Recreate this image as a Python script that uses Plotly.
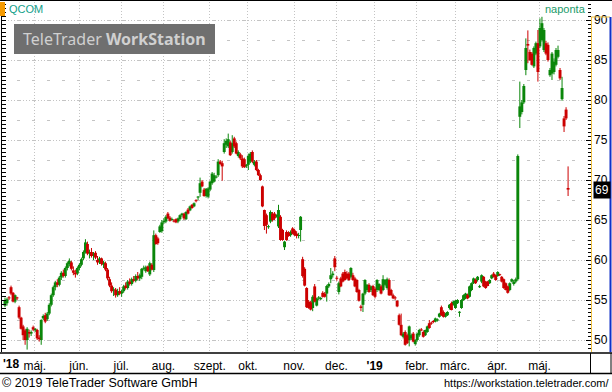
import plotly.graph_objects as go

# ---- data: daily OHLC (open, high, low, close), QCOM, 11 Apr 2018 .. 22 May 2019 ----
apr18 = [(54.3,55.3,54.1,55.0),(54.6,55.3,54.3,55.1),(55.3,55.5,55.0,55.2),(56.6,56.8,55.6,55.8),
         (55.9,56.0,54.7,54.8),(54.8,55.7,54.6,55.6),(55.3,55.4,55.0,55.2),(54.1,54.3,52.6,52.8),
         (52.8,52.9,51.3,51.4),(51.7,51.9,50.0,50.6),(51.2,51.4,49.4,50.0),(50.0,51.6,48.8,51.4),
         (51.0,51.3,50.3,50.8),(50.8,51.2,50.5,51.0)]
may18 = [(51.6,51.8,51.1,51.3),(51.2,51.5,51.0,51.4),(51.25,51.4,50.0,50.2),(50.3,50.6,49.8,50.1),
         (50.0,52.6,49.4,52.5),(52.7,53.2,52.5,53.0),(53.1,53.4,52.1,52.3),(52.6,53.5,52.4,53.3),
         (53.3,54.6,53.1,54.4),(54.4,55.8,54.2,55.6),(55.6,56.8,55.4,56.6),(56.6,57.4,56.2,57.2),
         (57.2,57.6,56.6,56.9),(56.9,58.0,56.7,57.8),(57.8,58.6,57.5,58.4),(58.4,58.8,57.8,58.0),
         (58.0,59.2,57.8,59.0),(59.0,59.8,58.7,59.6),(59.5,60.2,59.2,59.9),(59.7,59.9,58.7,58.9),
         (58.7,59.2,58.1,58.4),(58.4,58.8,57.8,58.2)]
jun18 = [(58.3,59.2,58.1,59.0),(59.0,59.6,58.7,59.4),(59.4,60.3,59.2,60.1),(60.2,61.2,60.0,61.0),
         (61.0,62.6,60.8,62.2),(62.0,62.3,60.6,60.8),(60.8,61.3,60.2,61.0),(61.0,61.5,60.3,60.5),
         (60.5,61.0,60.0,60.8),(60.9,61.1,60.1,60.3),(60.0,60.5,59.4,59.7),(59.7,60.4,59.5,60.2),
         (60.2,60.3,59.3,59.5),(59.4,59.9,59.0,59.7),(59.6,59.8,58.6,58.8),(58.8,59.0,57.5,57.7),
         (57.6,57.9,56.6,56.8),(56.8,57.2,55.9,56.1),(56.2,56.6,55.5,56.3),(56.3,56.5,55.3,55.6),
         (55.6,56.4,55.4,56.1)]
jul18 = [(56.1,56.6,55.6,55.8),(55.8,56.3,55.4,56.1),(56.1,56.9,55.9,56.7),(56.8,57.2,56.3,56.5),
         (56.5,57.5,56.3,57.3),(57.3,57.7,56.8,57.0),(57.0,57.8,56.8,57.6),(57.6,58.0,57.2,57.4),
         (57.4,58.2,57.2,58.0),(58.0,58.5,57.5,57.7),(57.7,58.3,57.4,58.1),(57.9,59.0,57.6,58.9),
         (58.9,59.3,58.7,59.0),(58.6,59.3,58.4,59.1),(59.2,59.3,58.5,58.6),(58.2,59.8,58.0,59.6),
         (59.4,59.6,58.7,58.8),(58.75,63.7,58.5,63.1),(63.1,63.3,61.9,62.0),(62.7,62.9,61.9,62.1),
         (63.5,64.4,63.4,64.2)]
aug18 = [(63.6,65.0,63.4,64.7),(64.7,65.2,64.5,64.9),(64.8,65.6,64.6,65.4),(65.8,66.0,65.1,65.2),
         (65.3,65.5,64.8,64.9),(65.0,65.3,64.9,65.1),(64.9,65.1,64.7,64.8),(65.1,65.2,64.6,64.7),
         (64.8,65.3,64.6,65.2),(65.1,65.7,64.9,65.6),(65.6,65.9,65.4,65.8),(65.8,65.9,65.0,65.2),
         (65.1,66.1,65.0,66.0),(66.3,66.5,65.7,65.8),(66.2,66.8,66.1,66.7),(66.9,67.0,66.4,66.5),
         (66.7,67.2,66.6,67.1),(67.4,67.6,67.2,67.35),(67.8,68.0,67.5,67.9),(68.4,70.3,67.9,69.6),
         (69.8,70.0,69.1,69.2),(68.8,69.0,67.9,68.0),(68.0,69.0,67.8,68.9)]
sep18 = [(67.9,69.1,67.7,68.95),(68.8,69.9,68.6,69.8),(69.6,71.0,69.4,70.8),(69.8,70.9,69.7,70.6),
         (70.3,70.6,70.2,70.4),(70.6,72.6,70.4,72.3),(72.3,72.5,71.9,72.0),(72.1,72.4,69.9,71.7),
         (73.5,75.1,73.3,74.6),(74.4,75.2,74.0,74.9),(74.2,75.8,74.0,75.1),(74.7,74.9,73.0,73.1),
         (73.5,75.6,73.3,74.6),(75.2,75.4,74.0,74.2),(74.6,74.8,73.2,73.3),(73.0,73.7,72.8,73.5),
         (73.2,73.4,72.5,72.7),(72.7,73.1,71.5,71.7),(72.6,72.8,71.5,71.6)]
oct18 = [(71.7,72.0,71.5,71.9),(71.9,73.3,71.25,73.0),(72.3,73.5,72.1,73.3),(73.5,73.7,72.1,72.3),
         (71.9,72.5,71.7,72.3),(72.3,72.5,71.1,71.25),(71.25,71.4,70.5,70.6),(70.6,70.8,69.9,70.0),
         (69.2,69.3,66.6,66.7),(66.25,66.3,63.75,64.25),(65.6,65.8,63.3,64.4),(64.1,64.4,63.9,64.2),
         (64.8,66.2,64.6,66.0),(65.8,66.0,64.8,65.0),(65.8,66.0,65.0,65.2),(65.5,65.7,65.3,65.55),
         (64.2,66.9,64.0,66.25),(65.4,65.6,62.4,62.5),(63.75,63.9,62.4,62.5),(61.6,62.4,61.25,62.3),
         (63.5,63.7,62.4,62.5),(63.4,63.6,62.9,63.0),(63.1,63.7,62.9,63.5)]
nov18 = [(63.95,64.1,63.2,63.3),(63.7,63.9,63.0,63.1),(63.3,63.6,62.7,63.0),(63.0,63.4,62.7,63.05),
         (63.75,65.5,62.3,65.4),(60.1,60.4,57.8,58.0),(58.9,59.1,56.7,56.8),(56.5,56.6,54.0,54.1),
         (54.8,55.0,53.9,54.0),(54.7,54.9,53.7,53.8),(54.0,55.6,53.6,55.4),(56.7,57.0,54.7,54.8),
         (54.3,55.3,54.2,55.2),(55.2,55.5,55.0,55.3),(55.1,55.4,55.0,55.25),(55.9,56.1,55.3,55.4),
         (55.8,56.0,55.3,55.4),(55.8,56.9,54.8,56.75),(56.7,57.2,56.5,57.0),(57.6,59.0,57.1,58.1),
         (58.1,58.6,57.8,58.3)]
dec18 = [(60.2,60.5,58.6,59.1),(57.7,58.0,57.4,57.65),(56.0,57.3,55.7,57.1),(57.7,57.9,56.6,56.7),
         (58.3,58.5,57.2,57.3),(58.5,58.8,57.4,57.5),(58.3,58.6,57.6,57.7),(58.3,58.5,57.4,57.5),
         (57.9,59.1,57.7,59.0),(58.1,58.4,57.4,57.5),(57.7,57.9,56.6,56.7),(57.5,57.6,55.9,56.0),
         (56.25,56.4,54.8,54.9),(54.2,54.4,53.6,54.0),(54.4,55.9,53.5,55.8),(55.8,57.6,55.6,57.5),
         (56.25,57.0,56.0,56.9),(56.9,57.1,55.9,56.0),(56.25,56.8,56.0,56.7)]
jan19 = [(56.75,56.9,55.5,55.6),(56.4,56.6,55.2,55.4),(56.25,57.6,56.0,57.5),(56.25,57.1,56.1,57.0),
         (56.7,56.9,55.7,55.8),(56.25,58.1,56.1,57.6),(56.9,57.6,56.7,57.5),(56.5,57.8,56.3,57.6),
         (57.5,57.7,55.5,55.6),(56.25,56.4,55.5,55.6),(55.6,55.8,55.1,55.2),(55.3,55.5,55.0,55.2),
         (54.9,55.0,54.1,54.2),(53.1,53.3,51.8,51.9),(51.9,53.3,50.5,50.6),(50.4,51.0,50.2,50.8),
         (51.0,51.2,49.3,49.4),(50.6,50.8,49.5,49.6),(50.0,51.8,49.2,51.7),(50.2,50.8,50.0,50.6),
         (50.8,51.0,49.7,49.8)]
feb19 = [(49.5,50.1,49.3,50.0),(50.0,50.9,49.8,50.8),(50.6,51.4,50.4,51.25),(51.3,51.5,51.1,51.2),
         (51.0,51.2,50.3,50.4),(50.6,51.3,50.5,51.25),(51.0,51.8,50.9,51.7),(52.1,52.5,51.4,51.5),
         (52.1,52.3,51.9,52.05),(52.3,52.5,52.1,52.25),(52.3,52.8,52.2,52.7),(52.45,52.7,52.3,52.55),
         (52.9,53.4,52.8,53.3),(54.1,54.3,53.0,53.1),(53.5,53.7,52.8,52.9),(52.9,53.4,52.8,53.3),
         (53.1,53.6,53.0,53.5),(54.0,54.5,53.8,54.4),(54.6,54.8,53.7,53.75)]
mar19 = [(54.4,54.9,54.3,54.8),(54.0,55.0,53.9,54.9),(54.6,55.1,54.5,55.0),(53.4,53.6,52.9,53.5),
         (54.0,55.1,53.9,55.0),(55.0,55.7,54.9,55.6),(55.2,55.9,55.1,55.8),(55.6,55.8,55.1,55.2),
         (55.4,56.8,55.3,56.7),(56.25,57.2,56.1,57.1),(57.1,57.8,57.0,57.7),(57.5,57.7,57.0,57.1),
         (57.5,58.0,57.3,57.9),(56.6,56.9,56.5,56.7),(57.3,58.2,57.1,58.1),(57.9,58.0,56.6,56.7),
         (57.3,57.4,56.4,56.5),(57.3,57.4,56.7,56.75),(57.1,57.6,57.0,57.5),(57.7,58.2,57.6,58.1),
         (58.3,58.5,57.8,57.9)]
apr19 = [(58.1,58.2,57.4,57.5),(58.0,58.6,57.9,58.5),(58.15,58.3,58.0,58.1),(57.9,58.0,57.2,57.3),
         (57.6,57.7,56.4,56.5),(57.1,57.2,56.2,56.25),(56.7,56.8,55.8,55.9),(56.25,57.2,56.1,57.1),
         (57.3,57.7,57.2,57.6),(57.0,57.5,56.8,57.3),(57.3,57.8,57.1,57.6),(57.6,73.2,57.4,73.0),
         (77.9,82.3,76.5,79.2),(78.5,80.0,78.2,79.7),(79.7,82.0,79.5,81.75),(83.75,87.7,83.1,86.5),
         (87.0,88.7,84.6,86.8),(86.0,86.3,84.9,85.0),(85.8,86.0,84.3,84.4),(84.2,86.7,84.0,86.5),
         (85.8,87.3,85.6,87.1)]
may19 = [(87.1,88.75,82.3,83.5),(86.7,90.2,86.5,89.0),(87.5,90.4,87.3,89.6),(86.25,89.0,86.0,88.75),
         (87.1,87.4,85.6,85.8),(86.9,87.2,84.8,85.0),(83.1,84.0,82.9,83.75),(83.3,86.0,82.5,85.8),
         (83.5,85.2,83.2,84.8),(84.4,86.5,84.2,86.25),(85.4,86.8,85.2,86.25),(83.75,84.0,82.5,82.7),
         (80.1,82.9,79.9,81.5),(77.7,78.0,76.0,76.7),(78.8,79.1,77.5,77.7),(69.0,71.7,68.0,68.8)]

# index of first trading day of each month, and its label
month_start_idx = [14, 36, 57, 78, 101, 120, 143, 164, 183, 204, 223, 244, 265]
month_labels = ["máj.", "jún.", "júl.", "aug.", "szept.", "okt.", "nov.", "dec.",
                "<b>'19</b>", "febr.", "márc.", "ápr.", "máj."]
price_ticks = [50, 55, 60, 65, 70, 75, 80, 85, 90]
last_label = "69"

rows = apr18 + may18 + jun18 + jul18 + aug18 + sep18 + oct18 + nov18 + dec18 + jan19 + feb19 + mar19 + apr19 + may19
opens = [r[0] for r in rows]
highs = [r[1] for r in rows]
lows = [r[2] for r in rows]
closes = [r[3] for r in rows]
idx = list(range(len(rows)))

# ---- geometry helpers (pixel -> paper) ----
W, H = 612, 392
PL, PR, PT, PB = 2, 591, 2, 352
def fx(x):
    return (x - PL) / (PR - PL)
def fy(y):
    return (PB - y) / (PB - PT)

GREEN = "#0b870b"
RED = "#cc0000"
GRID = "#c4c4c4"
FONT = "Liberation Sans, Arial, sans-serif"
BODY_W = 1.45      # body width in trading days
MIN_BODY = 0.13    # minimum drawn body height (doji)

fig = go.Figure()
for up, color in ((True, GREEN), (False, RED)):
    sel = [i for i in idx if (closes[i] >= opens[i]) == up]
    fig.add_trace(go.Bar(
        x=sel,
        base=[min(opens[i], closes[i]) for i in sel],
        y=[max(abs(closes[i] - opens[i]), MIN_BODY) for i in sel],
        width=BODY_W, marker=dict(color=color, line=dict(width=0)),
        showlegend=False, hoverinfo="skip"))
    wx, wy = [], []
    for i in sel:
        wx += [i, i, None]
        wy += [lows[i], highs[i], None]
    fig.add_trace(go.Scatter(x=wx, y=wy, mode="lines", line=dict(color=color, width=1),
                             showlegend=False, hoverinfo="skip"))

px_per_day = 2.011
x_lo = (PL - 5) / px_per_day
x_hi = (PR - 5) / px_per_day
y_lo, y_hi = 48.5, 92.25

fig.update_layout(
    width=W, height=H, margin=dict(l=PL, r=W - PR, t=PT, b=H - PB),
    paper_bgcolor="white", plot_bgcolor="white", barmode="overlay",
    font=dict(family=FONT, size=12, color="black"),
    xaxis=dict(range=[x_lo, x_hi], type="linear",
               tickmode="array", tickvals=[m + 0.8 for m in month_start_idx], ticktext=month_labels,
               showgrid=True, gridcolor=GRID, griddash="1px,2px", gridwidth=1,
               ticks="", showline=False, zeroline=False, ticklabelstandoff=5,
               tickfont=dict(size=12, color="black", family=FONT), fixedrange=True),
    yaxis=dict(range=[y_lo, y_hi], side="right", tickmode="array", tickvals=price_ticks,
               showgrid=True, gridcolor=GRID, griddash="1px,2px", gridwidth=1,
               ticks="inside", ticklen=5, tickcolor="black", showline=False, zeroline=False,
               minor=dict(dtick=2.5, tick0=0, showgrid=True, gridcolor=GRID, griddash="3px,12px", ticks=""),
               tickfont=dict(size=12, color="black", family=FONT), ticklabelstandoff=2, fixedrange=True),
    yaxis2=dict(range=[y_lo, y_hi], overlaying="y", side="right", showgrid=False,
                showticklabels=False, tickmode="linear", tick0=0, dtick=5, ticks="inside", ticklen=5,
                tickcolor="black", minor=dict(dtick=0.5, tick0=0, ticks="inside", ticklen=3, tickcolor="black"),
                zeroline=False, fixedrange=True),
    yaxis3=dict(range=[y_lo, y_hi], overlaying="y", side="left", showgrid=False,
                showticklabels=False, tickmode="linear", tick0=0, dtick=5, ticks="inside", ticklen=4,
                tickcolor="black", minor=dict(dtick=0.5, tick0=0, ticks="inside", ticklen=4, tickcolor="black"),
                showline=True, linecolor="black", linewidth=1, zeroline=False, fixedrange=True),
)
# invisible anchors so the overlay axes are drawn
fig.add_trace(go.Scatter(x=[x_lo], y=[y_lo], yaxis="y2", mode="markers", marker=dict(opacity=0),
                         showlegend=False, hoverinfo="skip"))
fig.add_trace(go.Scatter(x=[x_lo], y=[y_lo], yaxis="y3", mode="markers", marker=dict(opacity=0),
                         showlegend=False, hoverinfo="skip"))

shapes = []
def line(x0, y0, x1, y1, color, width=1):
    shapes.append(dict(type="line", xref="paper", yref="paper", x0=fx(x0), y0=fy(y0), x1=fx(x1), y1=fy(y1),
                       line=dict(color=color, width=width), layer="above"))
def rect(x0, y0, x1, y1, color):
    shapes.append(dict(type="rect", xref="paper", yref="paper", x0=fx(x0), y0=fy(y0), x1=fx(x1), y1=fy(y1),
                       fillcolor=color, line=dict(width=0), layer="above"))

line(0, 0.5, 612, 0.5, "black")              # top border
rect(0, 2, 5, 16, "#f59a00")                  # orange marker next to symbol
rect(14, 24, 215, 54, "#6f6f6f")              # logo box
line(591.5, 17, 591.5, 352, "#f0c040")        # right panel (yellow)
line(591, 17, 610, 17, "#f0c040")
line(610.5, 17, 610.5, 352, "#1030c8", 2)     # right panel (blue)
line(0, 353, 612, 353, "black", 1.5)          # axis band
line(0, 373.5, 612, 373.5, "black", 1.5)
line(590.5, 353, 590.5, 373.5, "black")
line(611, 353, 611, 373.5, "black")
fig.update_layout(shapes=shapes)

ann = []
ann.append(dict(xref="paper", yref="paper", x=fx(7), y=fy(9), xanchor="left", yanchor="middle",
                text="QCOM", showarrow=False, font=dict(size=11, color="#12a08a", family=FONT)))
ann.append(dict(xref="paper", yref="paper", x=fx(588), y=fy(9), xanchor="right", yanchor="middle",
                text="naponta", showarrow=False, font=dict(size=11, color="#1a9a6a", family=FONT)))
ann.append(dict(xref="paper", yref="paper", x=fx(114.5), y=fy(39.5), xanchor="center", yanchor="middle",
                text="TeleTrader <b>WorkStation</b>", showarrow=False,
                font=dict(size=16, color="#d0d0d0", family="Noto Sans, sans-serif")))
ann.append(dict(xref="paper", yref="paper", x=fx(1), y=fy(364), xanchor="left", yanchor="middle",
                text="<b>'18</b>", showarrow=False, font=dict(size=12, color="black", family=FONT)))
ann.append(dict(xref="paper", yref="paper", x=fx(0), y=fy(383), xanchor="left", yanchor="middle",
                text="© 2019 TeleTrader Software GmbH", showarrow=False,
                font=dict(size=12.5, color="black", family=FONT)))
ann.append(dict(xref="paper", yref="paper", x=fx(611), y=fy(383), xanchor="right", yanchor="middle",
                text="https://workstation.teletrader.com/", showarrow=False,
                font=dict(size=11, color="black", family=FONT)))
ann.append(dict(xref="paper", yref="y", x=fx(593), y=closes[-1], xanchor="left", yanchor="middle",
                text=last_label, showarrow=False, bgcolor="black", borderpad=1,
                font=dict(size=12, color="white", family=FONT)))
fig.update_layout(annotations=ann)

fig.write_html("out.html", config={"displayModeBar": False, "staticPlot": True},
               post_script="document.body.style.margin='0px';document.body.style.padding='0px';")
